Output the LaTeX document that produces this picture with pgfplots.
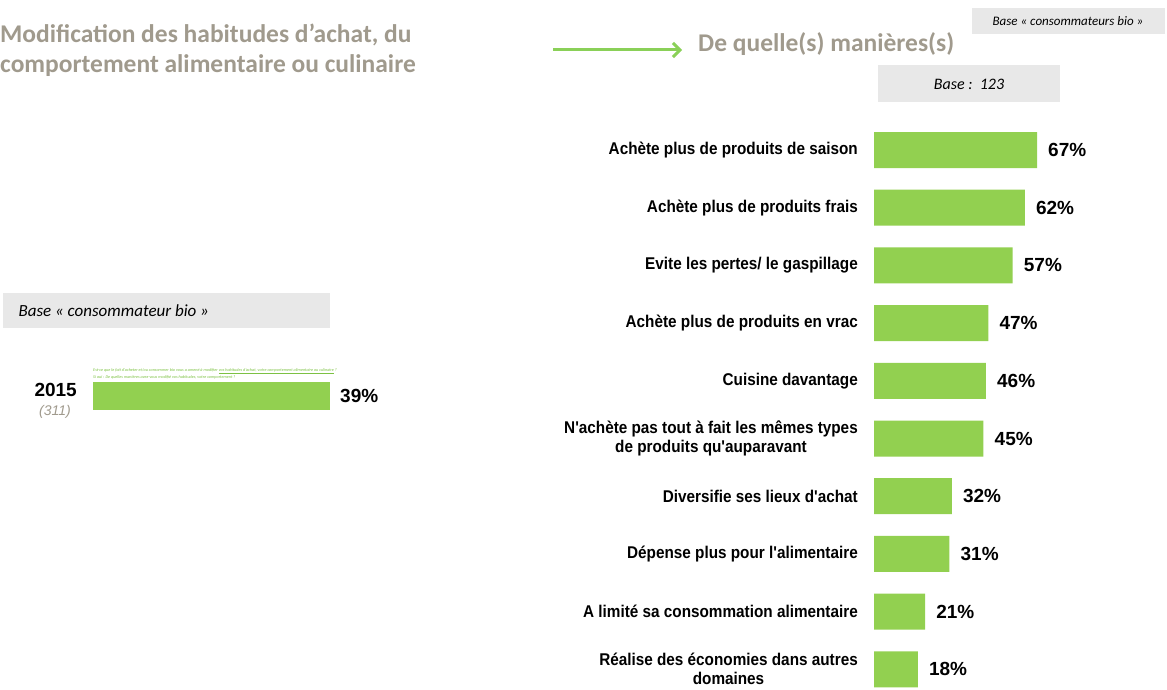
\documentclass[border=0pt]{standalone}
\usepackage{fontspec}
\setmainfont{Liberation Sans}
\newfontfamily\calibfont{Carlito}
\newfontfamily\labfont[FakeStretch=0.9]{Liberation Sans}
\usepackage{pgfplots}
\pgfplotsset{compat=1.18}
\usetikzlibrary{arrows.meta}
\definecolor{barg}{HTML}{92D050}
\definecolor{titg}{HTML}{A09A8D}
\definecolor{boxg}{HTML}{E8E8E8}
\definecolor{arrg}{HTML}{8AD058}
\definecolor{qg}{HTML}{7CC142}
\begin{document}
\begin{tikzpicture}[x=1pt,y=1pt]
% grey boxes
\fill[boxg] (972,681) rectangle (1165,655);
\node at (1068,668) {\calibfont\itshape\fontsize{13}{15}\selectfont Base « consommateurs bio »};
\fill[boxg] (878,624) rectangle (1060,587);
\node at (969,605) {\calibfont\itshape\fontsize{16}{18}\selectfont Base :\ \ 123};
\fill[boxg] (3,396) rectangle (330,361);
\node[anchor=west] at (15,378) {\calibfont\itshape\fontsize{17}{20}\selectfont Base « consommateur bio »};
% titles
\node[anchor=base west, inner sep=0pt, text=titg] at (0,646) {\calibfont\bfseries\fontsize{25.5}{30}\selectfont Modification des habitudes d’achat, du};
\node[anchor=base west, inner sep=0pt, text=titg] at (0,616) {\calibfont\bfseries\fontsize{25.5}{30}\selectfont comportement alimentaire ou culinaire};
\node[anchor=base west, inner sep=0pt, text=titg] at (698,637) {\calibfont\bfseries\fontsize{25.5}{30}\selectfont De quelle(s) manières(s)};
\draw[arrg, line width=3pt, -{Straight Barb[length=7pt,width=14pt]}] (553,639) -- (682,639);
% question text
\node[anchor=south west, inner sep=0pt, text=qg, align=left, font=\calibfont\itshape\fontsize{4.2}{5.5}\selectfont] at (93,310) {Est-ce que le fait d’acheter et/ou consommer bio vous a amené à modifier \underline{vos habitudes d’achat, votre comportement alimentaire ou culinaire} ?\\Si oui : De quelles manières avez-vous modifié vos habitudes, votre comportement ?};
% left axis
\begin{axis}[at={(93pt,293pt)}, anchor=west, scale only axis, width=237pt, height=40pt,
  xmin=0, xmax=39, ymin=-0.5, ymax=0.5, xbar, bar width=28pt,
  hide x axis, axis y line*=left, y axis line style={draw=none}, major tick length=0pt,
  /pgf/number format/assume math mode=true,
  ytick={0}, yticklabels={2015},
  yticklabel style={font=\bfseries\fontsize{19}{21}\selectfont, inner xsep=0pt, xshift=-16pt, yshift=6pt},
  nodes near coords={\pgfmathprintnumber{\pgfplotspointmeta}\%},
  nodes near coords style={anchor=west, inner xsep=0pt, xshift=10pt, font=\bfseries\fontsize{19}{21}\selectfont, text=black}]
\addplot[fill=barg, draw=none] coordinates {(39,0)};
\end{axis}
\node[text=titg] at (55,277) {\itshape\fontsize{14}{16}\selectfont (311)};
% right axis
\begin{axis}[at={(874pt,567.85pt)}, anchor=north west, scale only axis, width=243.3pt, height=577pt,
  xmin=0, xmax=100, ymin=-0.5, ymax=9.5, y dir=reverse, xbar, bar width=36pt,
  hide x axis, axis y line*=left, y axis line style={draw=none}, major tick length=0pt,
  /pgf/number format/assume math mode=true,
  ytick={0,...,9},
  yticklabels={Achète plus de produits de saison, Achète plus de produits frais, Evite les pertes/ le gaspillage, Achète plus de produits en vrac, Cuisine davantage, {N'achète pas tout à fait les mêmes types\\de produits qu'auparavant}, Diversifie ses lieux d'achat, Dépense plus pour l'alimentaire, A limité sa consommation alimentaire, {Réalise des économies dans autres\\domaines}},
  yticklabel style={font=\labfont\bfseries\fontsize{17}{19}\selectfont, align=center, inner xsep=0pt, xshift=-16pt},
  nodes near coords={\pgfmathprintnumber{\pgfplotspointmeta}\%},
  nodes near coords style={anchor=west, inner xsep=0pt, xshift=11pt, font=\bfseries\fontsize{19}{21}\selectfont, text=black}]
\addplot[fill=barg, draw=none] coordinates {(67,0) (62,1) (57,2) (47,3) (46,4) (45,5) (32,6) (31,7) (21,8) (18,9)};
\end{axis}
\pgfresetboundingbox
\path[use as bounding box] (0,0) rectangle (1167,689);
\end{tikzpicture}
\end{document}
